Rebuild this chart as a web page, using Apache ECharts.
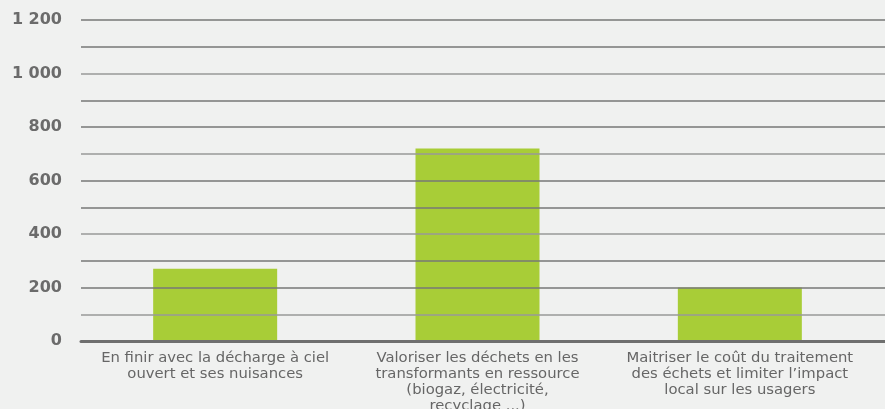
<!DOCTYPE html>
<html>
<head>
<meta charset="utf-8">
<script src="https://cdn.jsdelivr.net/npm/echarts@6/dist/echarts.min.js"></script>
<style>
    html, body { margin: 0; padding: 0; background: #f0f1f0; }
    #chart { width: 885px; height: 409px; }
</style>
</head>
<body>
<div id="chart"></div>
<script>
var categories = [
    'En finir avec la décharge à ciel\nouvert et ses nuisances',
    'Valoriser les déchets en les\ntransformants en ressource\n(biogaz, électricité,\nrecyclage ...)',
    'Maitriser le coût du traitement\ndes échets et limiter l’impact\nlocal sur les usagers'
];
var values = [270, 720, 200];
var yMin = 0;
var yMax = 1200;
var yStep = 100;

/**
 * 千位空格格式 (1 200)
 */
function formatNum(v) {
    if (v % 200 !== 0) {
        return '';
    }
    return String(v).replace(/\B(?=(\d{3})+(?!\d))/g, ' ');
}

var myChart = echarts.init(document.getElementById('chart'));
var option = {
    backgroundColor: '#f0f1f0',
    animation: false,
    grid: [
        {left: 81, right: 0, top: 20, bottom: 68, outerBoundsMode: 'none', containLabel: false},
        {left: 84, right: 14, top: 20, bottom: 68, outerBoundsMode: 'none', containLabel: false}
    ],
    xAxis: [
        {
            gridIndex: 0,
            type: 'category',
            data: [''],
            zlevel: 1,
            axisLine: {show: true, lineStyle: {color: '#6f6f6f', width: 3}},
            axisTick: {show: false},
            axisLabel: {show: false}
        },
        {
            gridIndex: 1,
            type: 'category',
            data: categories,
            axisLine: {show: false},
            axisTick: {show: false},
            axisLabel: {
                margin: 9,
                color: '#666',
                fontFamily: 'DejaVu Sans',
                fontSize: 14.8,
                lineHeight: 16,
                interval: 0
            }
        }
    ],
    yAxis: [
        {
            gridIndex: 0,
            type: 'value',
            min: yMin,
            max: yMax,
            interval: yStep,
            zlevel: 1,
            axisLine: {show: false},
            axisTick: {show: false},
            axisLabel: {
                margin: 19,
                color: '#6b6b6b',
                fontFamily: 'DejaVu Sans',
                fontWeight: 'bold',
                fontSize: 16,
                formatter: formatNum
            },
            splitLine: {
                show: true,
                lineStyle: {color: ['#777', '#999', '#777'], width: 1.5}
            }
        },
        {
            gridIndex: 1,
            type: 'value',
            min: yMin,
            max: yMax,
            interval: yStep,
            show: false,
            splitLine: {show: false}
        }
    ],
    series: [
        {
            type: 'bar',
            xAxisIndex: 1,
            yAxisIndex: 1,
            barWidth: 124,
            itemStyle: {color: '#a8cd37'},
            data: values
        }
    ]
};
myChart.setOption(option);
</script>
</body>
</html>
